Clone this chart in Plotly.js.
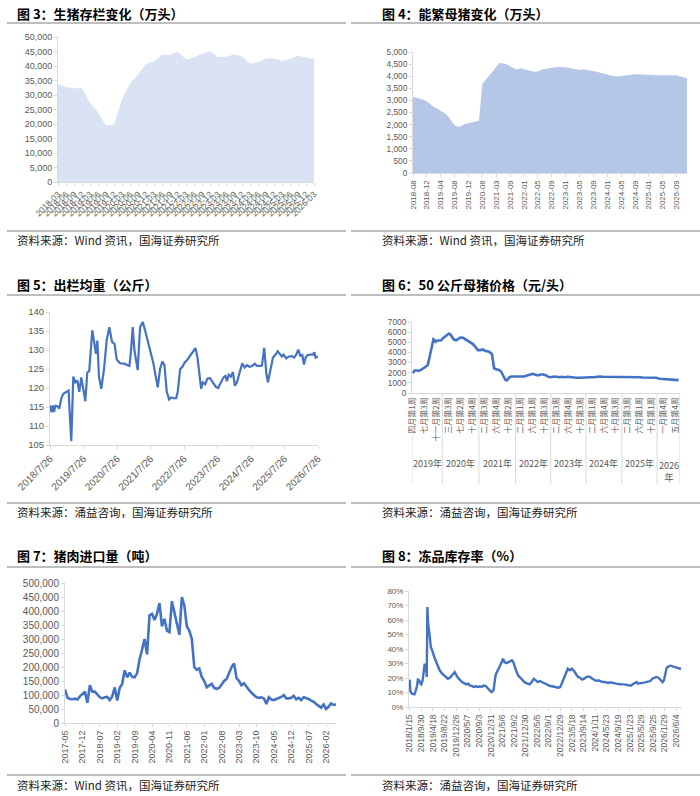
<!DOCTYPE html>
<html>
<head>
<meta charset="utf-8">
<script src="https://cdn.plot.ly/plotly-3.0.1.min.js"></script>
<style>
  html, body { margin: 0; padding: 0; background: #fff; }
  #chart { width: 700px; height: 796px; }
</style>
</head>
<body>
<div id="chart"></div>
<script>
function monthRange(start, end, step)
{
	var out = []
	var y = +start.slice(0, 4), m = +start.slice(5, 7)
	var ey = +end.slice(0, 4), em = +end.slice(5, 7)
	while (y < ey || (y === ey && m <= em))
	{
		out.push(y + '-' + (m < 10 ? '0' : '') + m)
		m += step || 1
		while (m > 12) { m -= 12; y++ }
	}
	return out
}
function everyNth(arr, n)
{
	return arr.filter(function (d, i) { return i % n === 0 })
}

// 图3 生猪存栏（万头），季度
var quarters3 = monthRange('2018-03', '2026-03', 3)
var hogStock = [33800, 32800, 32300, 32300, 27300, 24000, 19500, 19800, 28500, 34000, 37000,
	40700, 41600, 43900, 43800, 44900, 42200, 43000, 44200, 45200, 43000, 43200, 44000,
	43400, 40800, 41300, 42600, 42700, 41700, 42400, 43500, 42900, 42300]

// 图4 能繁母猪（万头）
var months4 = monthRange('2018-08', '2019-12')
	.concat(['2020-02', '2020-03', '2020-04', '2020-06', '2020-09', '2020-12', '2021-02',
		'2021-03', '2021-05', '2021-06', '2021-08'])
	.concat(monthRange('2021-09', '2025-12'))
var sows = [3150, 3120, 3090, 3030, 2950, 2830, 2730, 2660, 2580, 2480,
	2370, 2180, 1970, 1910, 1940, 2020, 2060, 2090, 2120, 2160,
	3680, 3850, 4000, 4200, 4380, 4560, 4530, 4490, 4420, 4330,
	4280, 4330, 4290, 4260, 4200, 4180, 4190, 4270, 4300, 4330,
	4360, 4370, 4380, 4390, 4370, 4340, 4320, 4290, 4260, 4290,
	4270, 4240, 4220, 4180, 4140, 4100, 4060, 4030, 4000, 3990,
	4010, 4040, 4050, 4060, 4080, 4080, 4080, 4070, 4060, 4050,
	4040, 4040, 4040, 4040, 4040, 4040, 4040, 4000, 3960, 3920]

// 图5 出栏均重（公斤）
var dates5 = ['2018-07-26', '2018-08-13', '2018-08-24', '2018-09-08', '2018-09-22', '2018-10-14',
	'2018-11-05', '2018-11-26', '2018-12-18', '2019-01-16', '2019-02-14', '2019-03-01', '2019-03-15',
	'2019-04-06', '2019-04-28', '2019-05-20', '2019-06-10', '2019-07-02', '2019-07-24', '2019-08-15',
	'2019-09-05', '2019-09-27', '2019-10-30', '2019-11-21', '2019-12-09', '2019-12-24', '2020-01-11',
	'2020-02-05', '2020-03-06', '2020-04-04', '2020-05-03', '2020-06-01', '2020-06-30', '2020-07-22',
	'2020-08-28', '2020-10-11', '2020-11-16', '2020-12-08', '2020-12-26', '2021-01-13', '2021-01-31',
	'2021-02-18', '2021-03-08', '2021-04-03', '2021-05-02', '2021-05-24', '2021-06-14', '2021-07-06',
	'2021-07-28', '2021-08-26', '2021-09-21', '2021-10-13', '2021-11-07', '2021-12-03', '2021-12-25',
	'2022-01-19', '2022-02-14', '2022-03-08', '2022-04-02', '2022-05-01', '2022-05-19', '2022-06-14',
	'2022-07-09', '2022-07-31', '2022-09-02', '2022-10-08', '2022-11-06', '2022-11-28', '2022-12-20',
	'2023-01-11', '2023-01-29', '2023-02-16', '2023-03-14', '2023-04-08', '2023-05-07', '2023-06-05',
	'2023-07-08', '2023-08-02', '2023-09-01', '2023-09-30', '2023-10-21', '2023-11-05', '2023-11-27',
	'2023-12-19', '2024-01-10', '2024-02-01', '2024-02-23', '2024-03-23', '2024-04-21', '2024-05-17',
	'2024-06-11', '2024-07-10', '2024-08-08', '2024-09-06', '2024-09-28', '2024-10-28', '2024-11-22',
	'2024-12-17', '2025-01-08', '2025-01-26', '2025-02-21', '2025-03-22', '2025-04-20', '2025-05-12',
	'2025-06-03', '2025-06-28', '2025-07-16', '2025-08-14', '2025-09-12', '2025-10-15', '2025-11-09',
	'2025-12-01', '2025-12-23', '2026-01-14', '2026-02-05', '2026-02-23', '2026-03-13', '2026-04-04',
	'2026-05-03', '2026-06-01', '2026-06-16', '2026-06-30', '2026-07-26']
var weight5 = [115.4, 113.6, 115.4, 113.7, 115.3, 115.2, 114.6, 117.2, 118.5, 118.8, 119.3, 112.0, 106.0,
	123.0, 121.5, 122.0, 119.0, 122.8, 119.5, 116.5, 124.0, 124.5, 135.2, 131.0, 129.0, 132.5, 123.0,
	119.8, 125.0, 132.6, 136.0, 132.2, 131.5, 127.5, 126.5, 126.4, 126.0, 125.8, 130.0, 136.0, 130.0,
	127.0, 124.7, 136.0, 137.4, 135.5, 133.5, 131.0, 129.0, 126.5, 123.0, 120.2, 125.0, 127.0, 126.0,
	119.0, 117.0, 117.5, 117.3, 117.3, 119.0, 125.0, 125.6, 126.6, 127.5, 128.8, 130.0, 130.5, 128.0,
	124.0, 119.8, 121.5, 121.0, 122.5, 122.6, 121.5, 120.3, 120.0, 121.5, 122.8, 123.2, 121.8, 123.5,
	123.0, 124.2, 120.6, 121.5, 123.8, 126.5, 125.4, 126.0, 125.6, 125.8, 126.4, 125.8, 125.8, 125.9,
	130.6, 124.0, 121.5, 125.0, 128.0, 128.8, 129.7, 129.0, 128.3, 128.8, 127.8, 128.3, 128.4, 128.0,
	128.8, 130.1, 128.5, 128.7, 126.2, 128.0, 128.7, 128.8, 128.8, 129.4, 128.0, 128.2]
var ticks5 = ['2018-07-26', '2019-07-26', '2020-07-26', '2021-07-26', '2022-07-26', '2023-07-26',
	'2024-07-26', '2025-07-26', '2026-07-26']
var tickText5 = ['2018/7/26', '2019/7/26', '2020/7/26', '2021/7/26', '2022/7/26', '2023/7/26',
	'2024/7/26', '2025/7/26', '2026/7/26']

// 图6 50公斤母猪价格（元/头），周序号
var week6 = [1, 3, 7, 9, 12, 15, 18, 22, 24, 26, 28, 30, 32, 33, 35, 38, 41, 43, 46, 49,
	52, 54, 57, 59, 62, 65, 68, 72, 75, 78, 82, 86, 90, 93, 97, 100, 103, 106, 109, 113,
	116, 119, 123, 126, 129, 132, 134, 136, 138, 141, 144, 148, 152, 156, 159, 163, 167, 171, 175, 178,
	182, 186, 190, 193, 197, 201, 205, 208, 212, 216, 220, 224, 228, 233, 238, 242, 247, 252, 257, 261,
	266, 271, 275, 280, 285, 290, 294, 299, 304, 308, 313, 318, 323, 327, 332, 337, 342, 346, 351, 356,
	360, 365, 370, 375, 378]
var sowPrice = [1950, 2220, 2220, 2180, 2280, 2380, 2540, 2770, 3420, 3900,
	4620, 5300, 5200, 5050, 5150, 5200, 5200, 5370, 5530, 5700,
	5860, 5770, 5530, 5270, 5200, 5370, 5460, 5440, 5300, 5200,
	5050, 4820, 4500, 4230, 4230, 4300, 4170, 4140, 4070, 3840,
	2440, 2350, 2280, 2120, 1690, 1300, 1240, 1430, 1560, 1630,
	1630, 1630, 1560, 1560, 1630, 1730, 1790, 1890, 1790, 1730,
	1820, 1820, 1730, 1600, 1560, 1630, 1600, 1560, 1600, 1560,
	1600, 1560, 1530, 1500, 1500, 1530, 1500, 1560, 1560, 1600,
	1630, 1600, 1600, 1600, 1600, 1630, 1600, 1600, 1600, 1600,
	1600, 1600, 1560, 1530, 1530, 1530, 1530, 1500, 1400, 1370,
	1400, 1300, 1270, 1270, 1270]
var tickVals6 = [0, 17, 34, 51, 68, 85, 102, 119, 136, 153, 170, 187, 204, 221, 238, 255,
	272, 289, 306, 323, 340, 357, 374]
var tickText6 = ['四月第1周', '七月第3周', '十一月第2周', '三月第3周', '七月第2周', '十月第4周',
	'二月第3周', '六月第4周', '十月第2周', '二月第1周', '六月第1周', '十月第3周',
	'二月第3周', '六月第4周', '十月第3周', '二月第1周', '六月第4周', '十月第3周',
	'二月第3周', '六月第1周', '十月第1周', '一月第4周', '五月第4周']
var years6 = ['2019年', '2020年', '2021年', '2022年', '2023年', '2024年', '2025年', '2026<br>年']
var yearEdges6 = [-0.5, 42.5, 94.5, 146.5, 196.5, 246.5, 297.5, 347.5, 380]

// 图7 猪肉进口量（吨），月度
var months7 = monthRange('2017-05', '2026-06')
var porkImport = [120, 90, 86, 85, 87, 84, 95, 105, 112, 72,
	135, 112, 112, 102, 92, 88, 92, 93, 82, 95,
	127, 80, 125, 140, 188, 163, 180, 165, 163, 178,
	228, 262, 300, 245, 385, 390, 368, 390, 428, 345,
	372, 330, 325, 435, 395, 350, 315, 450, 420, 345,
	330, 300, 200, 190, 195, 165, 150, 128, 135, 140,
	125, 122, 125, 140, 150, 157, 182, 200, 213, 160,
	150, 135, 142, 128, 118, 108, 100, 92, 90, 92,
	88, 68, 92, 84, 82, 85, 88, 93, 100, 88,
	88, 90, 97, 85, 90, 82, 92, 90, 86, 80,
	76, 68, 60, 55, 66, 50, 58, 70, 65, 66].map(function (v) { return v * 1000 })

// 图8 冻品库存率（%），周序号
var week8 = [0, 1, 3, 5, 7, 9, 11, 12, 14, 16, 17, 19, 21, 22, 24, 25, 26, 27, 29, 31,
	33, 35, 37, 39, 42, 44, 47, 49, 51, 54, 56, 59, 61, 64, 66, 68, 70, 72, 74, 77,
	81, 83, 86, 88, 91, 94, 97, 100, 103, 106, 109, 112, 115, 118, 120, 123, 125, 126, 128, 131,
	132, 135, 137, 139, 142, 145, 147, 150, 152, 154, 157, 159, 162, 164, 167, 170, 173, 176, 179, 182,
	185, 188, 191, 194, 197, 200, 203, 206, 209, 212, 215, 218, 221, 223, 226, 229, 232, 235, 238, 241,
	244, 247, 250, 253, 256, 259, 262, 265, 268, 271, 274, 277, 280, 283, 286, 288, 291, 294, 297, 300,
	303, 306, 309, 312, 315, 318, 321, 324, 327, 330, 333, 335, 338, 341, 344, 347, 350, 353, 356, 359,
	362, 365, 368, 371, 373, 375, 377, 380, 383, 386, 389, 392, 395, 398]
var frozenRate = [18.9, 11, 9.2, 8.7, 8.7, 11.5, 15, 18.9, 18.4, 16.1,
	15.6, 18.4, 24.1, 29.9, 27.6, 20.7, 69, 57.5, 50.6, 41.4,
	39, 36.8, 33.3, 31, 27.6, 25.3, 23.4, 22.5, 21.8, 20.7,
	19.5, 20.2, 21.1, 23, 24.1, 21.8, 20.7, 19.5, 18.4, 17.2,
	16.1, 15.6, 16.1, 14.9, 14.5, 13.8, 14.3, 13.8, 14.3, 13.8,
	14.9, 14.3, 12.6, 11.5, 10.3, 11.5, 18.4, 21.8, 24.1, 26.4,
	28, 31, 33.3, 31, 30.3, 31, 31.7, 32.2, 31, 27.6,
	24.1, 21.8, 20.2, 18.9, 17.9, 16.6, 16.1, 15.6, 17.2, 19.5,
	18.4, 17.2, 17.9, 17.2, 16.6, 16.1, 15.2, 14.5, 14.3, 13.8,
	13.8, 13.3, 13.8, 16.6, 19.5, 23, 26.4, 25.3, 26.4, 24.8,
	23, 20.7, 20.2, 18.9, 19.5, 20.7, 21.1, 20.7, 19.5, 18.9,
	17.9, 18.4, 17.5, 17.2, 17.3, 17, 16.6, 17, 16.6, 16.1,
	16.1, 15.9, 15.6, 15.6, 15.6, 15.2, 14.7, 14.7, 15.6, 16.6,
	17.2, 16.1, 16.1, 16.6, 16.8, 17, 17.2, 17.9, 19.5, 20.2,
	20.7, 20.2, 18.9, 17.2, 18.4, 23, 27.1, 28, 28.5, 28,
	27.6, 27.1, 26.4, 26.2]
var tickVals8 = [0, 17, 34, 51, 68, 85, 102, 119, 136, 153, 170, 187, 204, 221, 238, 255,
	272, 289, 306, 323, 340, 357, 374, 391]
var tickText8 = ['2018/1/15', '2018/9/30', '2019/4/18', '2019/8/22', '2019/12/26', '2020/5/7',
	'2020/9/3', '2020/12/31', '2021/5/6', '2021/9/2', '2021/12/30', '2022/5/5', '2022/9/1',
	'2022/12/29', '2023/5/18', '2023/9/14', '2024/1/11', '2024/5/23', '2024/9/19', '2025/1/23',
	'2025/5/29', '2025/9/25', '2026/1/29', '2026/6/4']

var titles = ['图 3：生猪存栏变化（万头）', '图 4：能繁母猪变化（万头）', '图 5：出栏均重（公斤）',
	'图 6：50 公斤母猪价格（元/头）', '图 7：猪肉进口量（吨）', '图 8：冻品库存率（%）']
var sources = ['资料来源：Wind 资讯，国海证券研究所', '资料来源：Wind 资讯，国海证券研究所',
	'资料来源：涌益咨询，国海证券研究所', '资料来源：涌益咨询，国海证券研究所',
	'资料来源：Wind 资讯，国海证券研究所', '资料来源：涌益咨询，国海证券研究所']

// ---- layout helpers (pixels -> paper) ----
var W = 700, H = 796
function domX(a, b) { return [a / W, b / W] }
function domY(top, bottom) { return [1 - bottom / H, 1 - top / H] }
function py(y) { return 1 - y / H }

var NUM = 'Liberation Sans, Arial, Noto Sans CJK SC, sans-serif'
var CJK = 'Noto Sans CJK SC, Liberation Sans, sans-serif'
var BLUE = '#4472C4'

function axis(extra, size)
{
	var a = {
		showline: true, linecolor: '#D9D9D9', linewidth: 1,
		ticks: 'outside', ticklen: 3, tickcolor: '#D9D9D9',
		showgrid: false, zeroline: false, fixedrange: true,
		tickfont: {family: NUM, size: size || 9, color: '#595959'}
	}
	for (var k in extra) a[k] = extra[k]
	return a
}

var dane = [
	{type: 'scatter', mode: 'lines', x: quarters3, y: hogStock, fill: 'tozeroy',
		fillcolor: '#DAE3F3', line: {width: 0, color: '#DAE3F3'}, xaxis: 'x', yaxis: 'y', hoverinfo: 'x+y'},
	{type: 'scatter', mode: 'lines', x: months4, y: sows, fill: 'tozeroy',
		fillcolor: '#B4C7E7', line: {width: 0, color: '#B4C7E7'}, xaxis: 'x2', yaxis: 'y2'},
	{type: 'scatter', mode: 'lines', x: dates5, y: weight5,
		line: {width: 2.2, color: BLUE}, xaxis: 'x3', yaxis: 'y3'},
	{type: 'scatter', mode: 'lines', x: week6, y: sowPrice,
		line: {width: 2.6, color: BLUE}, xaxis: 'x4', yaxis: 'y4'},
	{type: 'scatter', mode: 'lines', x: months7, y: porkImport,
		line: {width: 2.6, color: BLUE}, xaxis: 'x5', yaxis: 'y5'},
	{type: 'scatter', mode: 'lines', x: week8, y: frozenRate,
		line: {width: 2.4, color: BLUE}, xaxis: 'x6', yaxis: 'y6'}
]

var layout = {
	width: W, height: H,
	margin: {l: 0, r: 0, t: 0, b: 0},
	paper_bgcolor: '#fff', plot_bgcolor: '#fff',
	showlegend: false,
	font: {family: NUM, color: '#595959'},

	xaxis: axis({domain: domX(58, 314), anchor: 'y', type: 'category', range: [0, 32],
		tickmode: 'linear', dtick: 1, tickangle: -45}, 8.5),
	yaxis: axis({domain: domY(37, 182), anchor: 'x', range: [0, 50000], dtick: 5000,
		tickformat: ',d'}, 9),

	xaxis2: axis({domain: domX(413, 687), anchor: 'y2', type: 'category', range: [0, 79],
		tickmode: 'array', tickvals: everyNth(months4, 4), tickangle: -90}, 8),
	yaxis2: axis({domain: domY(52, 173), anchor: 'x2', range: [0, 5000], dtick: 500,
		tickformat: ',d'}, 8.3),

	xaxis3: axis({domain: domX(50, 318), anchor: 'y3', type: 'date',
		range: ['2018-07-26', '2026-07-26'], tickmode: 'array', tickvals: ticks5,
		ticktext: tickText5, tickangle: -45}, 10),
	yaxis3: axis({domain: domY(312, 445), anchor: 'x3', range: [105, 140], dtick: 5}, 9.5),

	xaxis4: axis({domain: domX(412, 680), anchor: 'y4', range: [-0.5, 380],
		tickmode: 'array', tickvals: tickVals6, ticktext: tickText6, tickangle: -90,
		ticks: '', tickfont: {family: CJK, size: 8, color: '#595959'}}),
	yaxis4: axis({domain: domY(322, 393), anchor: 'x4', range: [0, 7000], dtick: 1000,
		tickformat: 'd'}, 8.3),

	xaxis5: axis({domain: domX(65, 336), anchor: 'y5', type: 'category', range: [0, 109],
		tickmode: 'array', tickvals: everyNth(months7, 7), tickangle: -90}, 9),
	yaxis5: axis({domain: domY(583, 723), anchor: 'x5', range: [0, 500000], dtick: 50000,
		tickformat: ',d'}, 10),

	xaxis6: axis({domain: domX(409, 682), anchor: 'y6', range: [-1, 399.5],
		tickmode: 'array', tickvals: tickVals8, ticktext: tickText8, tickangle: -90}, 8.5),
	yaxis6: axis({domain: domY(591, 707), anchor: 'x6', range: [0, 80], dtick: 10,
		ticksuffix: '%'}, 8),

	annotations: [],
	shapes: []
}

// panel titles, rules and sources
var panelLeft = [15, 380]
var ruleX = [[7, 346], [351, 700]]
var rowTitleY = [13, 284, 555]
var rowTopRule = [23, 295, 567]
var rowBottomRule = [231, 503, 775]
var rowSourceY = [240, 512, 785]

for (var i = 0; i < 6; i++)
{
	var col = i % 2, row = Math.floor(i / 2)
	layout.annotations.push({
		xref: 'paper', yref: 'paper', x: panelLeft[col] / W, y: py(rowTitleY[row]),
		xanchor: 'left', yanchor: 'middle', showarrow: false,
		text: '<b>' + titles[i] + '</b>',
		font: {family: CJK, size: 13, color: '#000'}
	})
	layout.annotations.push({
		xref: 'paper', yref: 'paper', x: panelLeft[col] / W, y: py(rowSourceY[row]),
		xanchor: 'left', yanchor: 'middle', showarrow: false,
		text: sources[i],
		font: {family: CJK, size: 11.5, color: '#222'}
	})
	var rules = [rowTopRule[row], rowBottomRule[row]]
	for (var r = 0; r < 2; r++)
	{
		layout.shapes.push({
			type: 'line', xref: 'paper', yref: 'paper',
			x0: ruleX[col][0] / W, x1: ruleX[col][1] / W, y0: py(rules[r]), y1: py(rules[r]),
			line: {color: '#7F7F7F', width: 1.2}
		})
	}
}

// 图6 year groups below the week labels
for (var j = 0; j < yearEdges6.length; j++)
{
	layout.shapes.push({
		type: 'line', xref: 'x4', yref: 'paper',
		x0: yearEdges6[j], x1: yearEdges6[j], y0: py(393), y1: py(484),
		line: {color: '#D9D9D9', width: 1}
	})
}
for (var k = 0; k < years6.length; k++)
{
	layout.annotations.push({
		xref: 'x4', yref: 'paper', x: (yearEdges6[k] + yearEdges6[k + 1]) / 2, y: py(463),
		yanchor: k === years6.length - 1 ? 'top' : 'middle', showarrow: false,
		text: years6[k],
		font: {family: CJK, size: 9, color: '#595959'}
	})
}
layout.annotations[layout.annotations.length - 1].y = py(457)

Plotly.newPlot('chart', dane, layout, {staticPlot: true, displayModeBar: false})
</script>
</body>
</html>
